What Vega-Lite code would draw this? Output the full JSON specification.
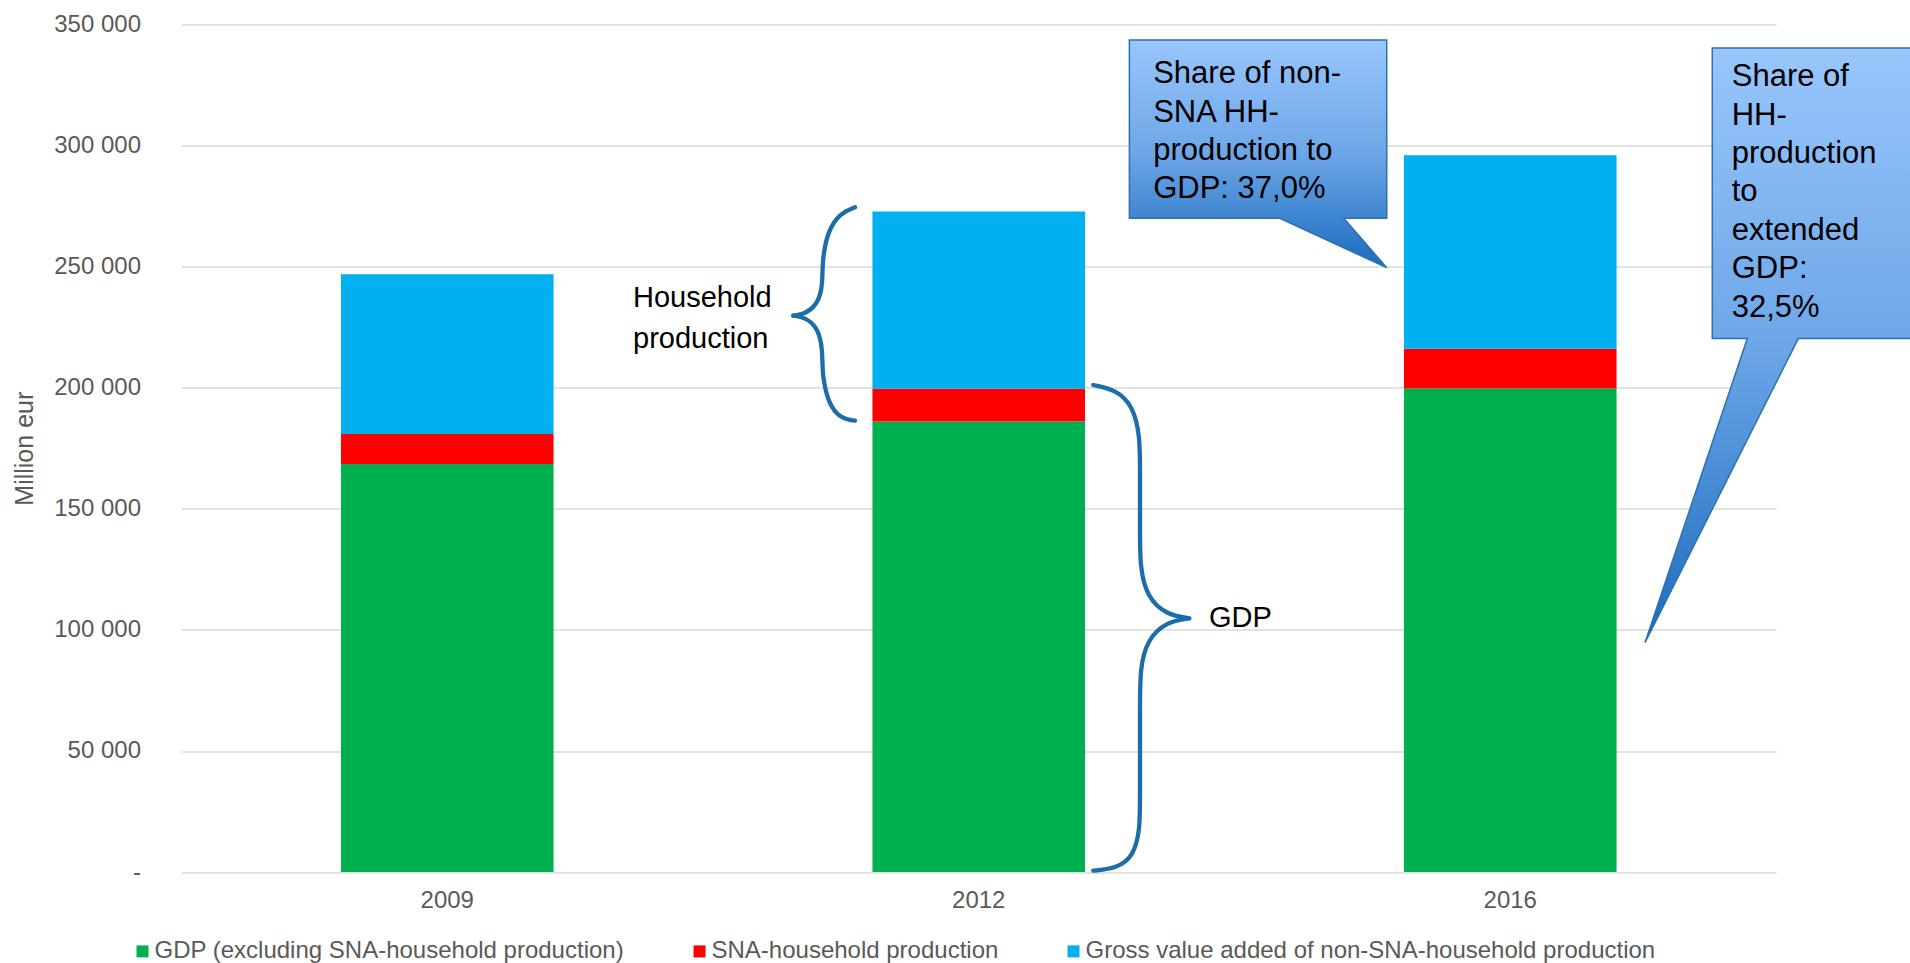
{
  "$schema": "https://vega.github.io/schema/vega-lite/v6.json",
  "width": 1594.5,
  "height": 847.6,
  "autosize": {"type": "none"},
  "padding": {"left": 181.5, "top": 24.4, "right": 134, "bottom": 91},
  "background": "white",
  "config": {"font": "Liberation Sans", "view": {"stroke": null}},
  "resolve": {"scale": {"x": "independent"}, "axis": {"x": "independent"}},
  "layer": [
    {
      "data": {"values": [
        {"year": "2009", "series": "GDP (excluding SNA-household production)", "o": 1, "value": 168500},
        {"year": "2009", "series": "SNA-household production", "o": 2, "value": 12400},
        {"year": "2009", "series": "Gross value added of non-SNA-household production", "o": 3, "value": 65900},
        {"year": "2012", "series": "GDP (excluding SNA-household production)", "o": 1, "value": 186000},
        {"year": "2012", "series": "SNA-household production", "o": 2, "value": 13600},
        {"year": "2012", "series": "Gross value added of non-SNA-household production", "o": 3, "value": 73100},
        {"year": "2016", "series": "GDP (excluding SNA-household production)", "o": 1, "value": 199700},
        {"year": "2016", "series": "SNA-household production", "o": 2, "value": 16400},
        {"year": "2016", "series": "Gross value added of non-SNA-household production", "o": 3, "value": 79900}
      ]},
      "mark": {"type": "bar"},
      "encoding": {
        "x": {
          "field": "year", "type": "nominal",
          "scale": {"paddingInner": 0.6, "paddingOuter": 0.3},
          "axis": {"title": null, "labelAngle": 0, "domain": false, "ticks": false, "labelFontSize": 24, "labelColor": "#595959", "labelPadding": 16}
        },
        "y": {
          "field": "value", "type": "quantitative", "stack": "zero",
          "scale": {"domain": [0, 350000], "nice": false},
          "axis": {
            "title": "Million eur", "titleFontSize": 25, "titleFontWeight": "normal", "titleColor": "#595959", "titlePadding": 16,
            "values": [0, 50000, 100000, 150000, 200000, 250000, 300000, 350000],
            "labelExpr": "datum.value == 0 ? '-\u00a0\u00a0' : replace(format(datum.value, ','), ',', ' ')",
            "labelFontSize": 24, "labelColor": "#595959", "labelPadding": 41,
            "domain": false, "ticks": false, "grid": true, "gridColor": "#D9D9D9", "gridWidth": 1.5
          }
        },
        "color": {
          "field": "series", "type": "nominal",
          "scale": {
            "domain": ["GDP (excluding SNA-household production)", "SNA-household production", "Gross value added of non-SNA-household production"],
            "range": ["#00B050", "#FF0000", "#00B0F0"]
          },
          "legend": {
            "title": null, "orient": "none", "legendX": -51, "legendY": 915, "direction": "horizontal", "columns": 3,
            "symbolType": "square", "symbolSize": 144, "symbolStrokeWidth": 0,
            "labelFontSize": 24, "labelColor": "#595959", "labelOffset": 0, "columnPadding": 63, "labelLimit": 1000, "padding": 0
          }
        },
        "order": {"field": "o", "type": "quantitative"}
      }
    },
    {
      "data": {"values": [
        {"part": "hh_up", "i": 1, "ax": 1.2672, "value": 274480},
        {"part": "hh_up", "i": 2, "ax": 1.2390, "value": 272000},
        {"part": "hh_up", "i": 3, "ax": 1.2169, "value": 265100},
        {"part": "hh_up", "i": 4, "ax": 1.2064, "value": 254080},
        {"part": "hh_up", "i": 5, "ax": 1.2060, "value": 246000},
        {"part": "hh_up", "i": 6, "ax": 1.2045, "value": 240330},
        {"part": "hh_up", "i": 7, "ax": 1.1951, "value": 234130},
        {"part": "hh_up", "i": 8, "ax": 1.1731, "value": 230420},
        {"part": "hh_up", "i": 9, "ax": 1.1511, "value": 229710},
        {"part": "hh_low", "i": 1, "ax": 1.1511, "value": 229710},
        {"part": "hh_low", "i": 2, "ax": 1.1731, "value": 229050},
        {"part": "hh_low", "i": 3, "ax": 1.1951, "value": 225170},
        {"part": "hh_low", "i": 4, "ax": 1.2045, "value": 218320},
        {"part": "hh_low", "i": 5, "ax": 1.2060, "value": 211000},
        {"part": "hh_low", "i": 6, "ax": 1.2064, "value": 204530},
        {"part": "hh_low", "i": 7, "ax": 1.2169, "value": 193540},
        {"part": "hh_low", "i": 8, "ax": 1.2390, "value": 187350},
        {"part": "hh_low", "i": 9, "ax": 1.2672, "value": 186360},
        {"part": "gdp_up", "i": 1, "ax": 1.7155, "value": 201100},
        {"part": "gdp_up", "i": 2, "ax": 1.7596, "value": 199030},
        {"part": "gdp_up", "i": 3, "ax": 1.7908, "value": 192140},
        {"part": "gdp_up", "i": 4, "ax": 1.8034, "value": 179750},
        {"part": "gdp_up", "i": 5, "ax": 1.8034, "value": 166000},
        {"part": "gdp_up", "i": 6, "ax": 1.8034, "value": 140000},
        {"part": "gdp_up", "i": 7, "ax": 1.8034, "value": 126070},
        {"part": "gdp_up", "i": 8, "ax": 1.8160, "value": 113680},
        {"part": "gdp_up", "i": 9, "ax": 1.8536, "value": 106120},
        {"part": "gdp_up", "i": 10, "ax": 1.8961, "value": 104760},
        {"part": "gdp_low", "i": 1, "ax": 1.8961, "value": 104760},
        {"part": "gdp_low", "i": 2, "ax": 1.8536, "value": 103360},
        {"part": "gdp_low", "i": 3, "ax": 1.8160, "value": 95800},
        {"part": "gdp_low", "i": 4, "ax": 1.8034, "value": 83410},
        {"part": "gdp_low", "i": 5, "ax": 1.8034, "value": 70000},
        {"part": "gdp_low", "i": 6, "ax": 1.8034, "value": 30000},
        {"part": "gdp_low", "i": 7, "ax": 1.8034, "value": 17340},
        {"part": "gdp_low", "i": 8, "ax": 1.7908, "value": 6320},
        {"part": "gdp_low", "i": 9, "ax": 1.7596, "value": 1530},
        {"part": "gdp_low", "i": 10, "ax": 1.7155, "value": 540}
      ]},
      "mark": {"type": "line", "interpolate": "basis", "stroke": "#1D6DAB", "strokeWidth": 4.3, "strokeCap": "round"},
      "encoding": {
        "x": {"field": "ax", "type": "quantitative", "scale": {"domain": [0, 3], "nice": false, "zero": false}, "axis": null},
        "y": {
          "field": "value", "type": "quantitative",
          "axis": {
            "title": "Million eur", "titleFontSize": 25, "titleFontWeight": "normal", "titleColor": "#595959", "titlePadding": 16,
            "values": [0, 50000, 100000, 150000, 200000, 250000, 300000, 350000],
            "labelExpr": "datum.value == 0 ? '-\u00a0\u00a0' : replace(format(datum.value, ','), ',', ' ')",
            "labelFontSize": 24, "labelColor": "#595959", "labelPadding": 41,
            "domain": false, "ticks": false, "grid": true, "gridColor": "#D9D9D9", "gridWidth": 1.5
          }
        },
        "detail": {"field": "part", "type": "nominal"},
        "order": {"field": "i", "type": "quantitative"}
      }
    },
    {
      "data": {"values": [
        {"c": "c1", "i": 4, "ax": 2.2676, "ax2": 2.2676, "value": 249540},
        {"c": "c1", "i": 3, "ax": 2.0664, "ax2": 2.1868, "value": 269930},
        {"c": "c1", "i": 2, "ax": 1.7834, "ax2": 2.2676, "value": 269935},
        {"c": "c1", "i": 1, "ax": 1.7834, "ax2": 2.2676, "value": 343560},
        {"c": "c2", "i": 4, "ax": 2.7535, "ax2": 2.7535, "value": 94690},
        {"c": "c2", "i": 3, "ax": 2.9460, "ax2": 3.0419, "value": 220260},
        {"c": "c2", "i": 2, "ax": 2.8801, "ax2": 3.2992, "value": 220265},
        {"c": "c2", "i": 1, "ax": 2.8801, "ax2": 3.2992, "value": 340210}
      ]},
      "mark": {
        "type": "area", "orient": "horizontal", "line": false,
        "fill": {"gradient": "linear", "x1": 0, "y1": 0, "x2": 0, "y2": 1, "stops": [
          {"offset": 0, "color": "#98C6FC"},
          {"offset": 0.5, "color": "#6DA6E7"},
          {"offset": 1, "color": "#1B6CBF"}
        ]},
        "fillOpacity": 1,
        "stroke": "#2B70B0", "strokeWidth": 1.5
      },
      "encoding": {
        "x": {"field": "ax", "type": "quantitative", "stack": null, "scale": {"domain": [0, 3], "nice": false, "zero": false}, "axis": null},
        "x2": {"field": "ax2"},
        "y": {
          "field": "value", "type": "quantitative",
          "axis": {
            "title": "Million eur", "titleFontSize": 25, "titleFontWeight": "normal", "titleColor": "#595959", "titlePadding": 16,
            "values": [0, 50000, 100000, 150000, 200000, 250000, 300000, 350000],
            "labelExpr": "datum.value == 0 ? '-\u00a0\u00a0' : replace(format(datum.value, ','), ',', ' ')",
            "labelFontSize": 24, "labelColor": "#595959", "labelPadding": 41,
            "domain": false, "ticks": false, "grid": true, "gridColor": "#D9D9D9", "gridWidth": 1.5
          }
        },
        "detail": {"field": "c", "type": "nominal"}
      }
    },
    {
      "data": {"values": [
        {"label": "Household\nproduction", "ax": 0.8495, "value": 233430},
        {"label": "GDP", "ax": 1.9332, "value": 101050}
      ]},
      "mark": {"type": "text", "align": "left", "baseline": "alphabetic", "fontSize": 29, "lineHeight": 41.6, "lineBreak": "\n", "color": "#000000"},
      "encoding": {
        "x": {"field": "ax", "type": "quantitative", "scale": {"domain": [0, 3], "nice": false, "zero": false}, "axis": null},
        "y": {
          "field": "value", "type": "quantitative",
          "axis": {
            "title": "Million eur", "titleFontSize": 25, "titleFontWeight": "normal", "titleColor": "#595959", "titlePadding": 16,
            "values": [0, 50000, 100000, 150000, 200000, 250000, 300000, 350000],
            "labelExpr": "datum.value == 0 ? '-\u00a0\u00a0' : replace(format(datum.value, ','), ',', ' ')",
            "labelFontSize": 24, "labelColor": "#595959", "labelPadding": 41,
            "domain": false, "ticks": false, "grid": true, "gridColor": "#D9D9D9", "gridWidth": 1.5
          }
        },
        "text": {"field": "label"}
      }
    },
    {
      "data": {"values": [
        {"label": "Share of non-\nSNA HH-\nproduction to\nGDP: 37,0%", "ax": 1.8282, "value": 325680},
        {"label": "Share of\nHH-\nproduction\nto\nextended\nGDP:\n32,5%", "ax": 2.9167, "value": 324480}
      ]},
      "mark": {"type": "text", "align": "left", "baseline": "alphabetic", "fontSize": 31, "lineHeight": 38.4, "lineBreak": "\n", "color": "#000000"},
      "encoding": {
        "x": {"field": "ax", "type": "quantitative", "scale": {"domain": [0, 3], "nice": false, "zero": false}, "axis": null},
        "y": {
          "field": "value", "type": "quantitative",
          "axis": {
            "title": "Million eur", "titleFontSize": 25, "titleFontWeight": "normal", "titleColor": "#595959", "titlePadding": 16,
            "values": [0, 50000, 100000, 150000, 200000, 250000, 300000, 350000],
            "labelExpr": "datum.value == 0 ? '-\u00a0\u00a0' : replace(format(datum.value, ','), ',', ' ')",
            "labelFontSize": 24, "labelColor": "#595959", "labelPadding": 41,
            "domain": false, "ticks": false, "grid": true, "gridColor": "#D9D9D9", "gridWidth": 1.5
          }
        },
        "text": {"field": "label"}
      }
    }
  ]
}
